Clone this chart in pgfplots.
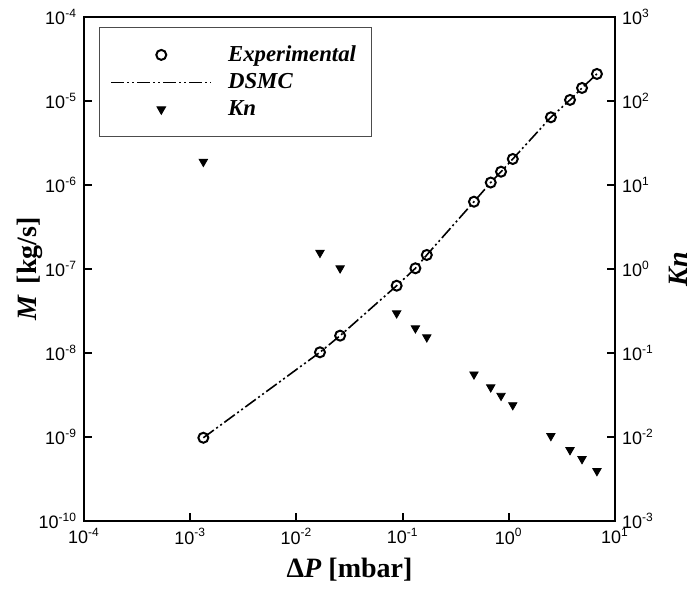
\documentclass[border=0pt]{standalone}
\usepackage{fontspec}
\setmainfont{Liberation Serif}
\setsansfont{Liberation Sans}
\usepackage{pgfplots}
\usepackage{pgfplotstable}
\pgfplotsset{compat=1.18}

% M and Kn
\pgfplotstableread{
dp       m        kn
0.00133  9.8e-10  18.9
0.01667  1.02e-8  1.56
0.0258   1.61e-8  1.02
0.0879   6.33e-8  0.297
0.132    1.02e-7  0.197
0.169    1.47e-7  0.154
0.470    6.33e-7  0.0557
0.676    1.07e-6  0.0391
0.845    1.44e-6  0.0310
1.09     2.04e-6  0.0240
2.49     6.4e-6   0.0103
3.77     1.03e-5  0.0070
4.89     1.43e-5  0.00547
6.76     2.1e-5   0.00394
}\data

\pgfplotsset{
  legend image code/.code={\draw[mark repeat=2,mark phase=2,#1] plot coordinates {(0pt,0pt) (25pt,0pt) (50pt,0pt)};},
}

\begin{document}
\begin{tikzpicture}
\begin{axis}[
  scale only axis, width=265.5pt, height=252pt,
  xmode=log, ymode=log,
  xmin=1e-4, xmax=1e1, ymin=1e-10, ymax=1e-4,
  xtick={1e-4,1e-3,1e-2,1e-1,1e0,1e1},
  ytick={1e-10,1e-9,1e-8,1e-7,1e-6,1e-5,1e-4},
  xminorticks=false, yminorticks=false,
  tick align=inside, major tick length=4pt,
  xtick pos=left, ytick pos=left,
  axis line style={line width=1pt},
  every tick/.style={black, line width=1pt},
  tick label style={font=\sffamily\fontsize{9}{10}\selectfont},
  label style={font=\bfseries\fontsize{14}{16}\selectfont},
  xticklabel={\pgfmathparse{int(round(\tick/ln(10)))}10\textsuperscript{\pgfmathresult}},
  yticklabel={\pgfmathparse{int(round(\tick/ln(10)))}10\textsuperscript{\pgfmathresult}},
  xlabel={Δ\textit{P} [mbar]},
  ylabel={\textit{M}\hspace{0.4em}[kg/s]},
  ylabel style={at={(axis description cs:-0.1017,0.5)}, rotate=0, anchor=center},
]
\addplot[black, line width=0.8pt, dash pattern=on 6.5pt off 1.5pt on 1pt off 1.5pt on 1pt off 1.5pt]
  table[x=dp, y=m] {\data};
\addplot[black, only marks, mark=o, mark size=2.5pt, line width=1pt]
  table[x=dp, y=m] {\data};
\end{axis}

\begin{axis}[
  scale only axis, width=265.5pt, height=252pt,
  xmode=log, ymode=log,
  xmin=1e-4, xmax=1e1, ymin=1e-3, ymax=1e3,
  ytick={1e-3,1e-2,1e-1,1e0,1e1,1e2,1e3},
  xminorticks=false, yminorticks=false,
  tick align=inside, major tick length=4pt,
  axis y line*=right, axis x line=none,
  axis line style={line width=1pt},
  every tick/.style={black, line width=1pt},
  tick label style={font=\sffamily\fontsize{9}{10}\selectfont},
  label style={font=\bfseries\fontsize{14}{16}\selectfont},
  yticklabel={\pgfmathparse{int(round(\tick/ln(10)))}10\textsuperscript{\pgfmathresult}},
  ylabel={\textit{Kn}},
  ylabel style={at={(axis description cs:1.12,0.5)}, anchor=center},
  legend cell align=left,
  legend style={at={(axis description cs:0,1)}, anchor=north west,
    xshift=7.5pt, yshift=-5pt,
    draw=black!70, line width=0.5pt,
    font=\bfseries\itshape\fontsize{11.4}{13}\selectfont,
    inner xsep=5.5pt, inner ysep=7pt, column sep=6pt, row sep=0.5pt},
]
\addlegendimage{black, only marks, mark=o, mark size=2.5pt, line width=1pt}
\addlegendentry{Experimental}
\addlegendimage{black, line width=0.8pt, dash pattern=on 6.5pt off 1.5pt on 1pt off 1.5pt on 1pt off 1.5pt}
\addlegendentry{DSMC}
\addplot[black, only marks, mark=triangle*, mark size=2.4pt, mark options={rotate=180}]
  table[x=dp, y=kn] {\data};
\addlegendentry{Kn}
\end{axis}
\pgfresetboundingbox
\path (current axis.south west) ++(-42pt,-34pt) rectangle ([shift={(42pt,8.5pt)}]current axis.north east);
\end{tikzpicture}
\end{document}
